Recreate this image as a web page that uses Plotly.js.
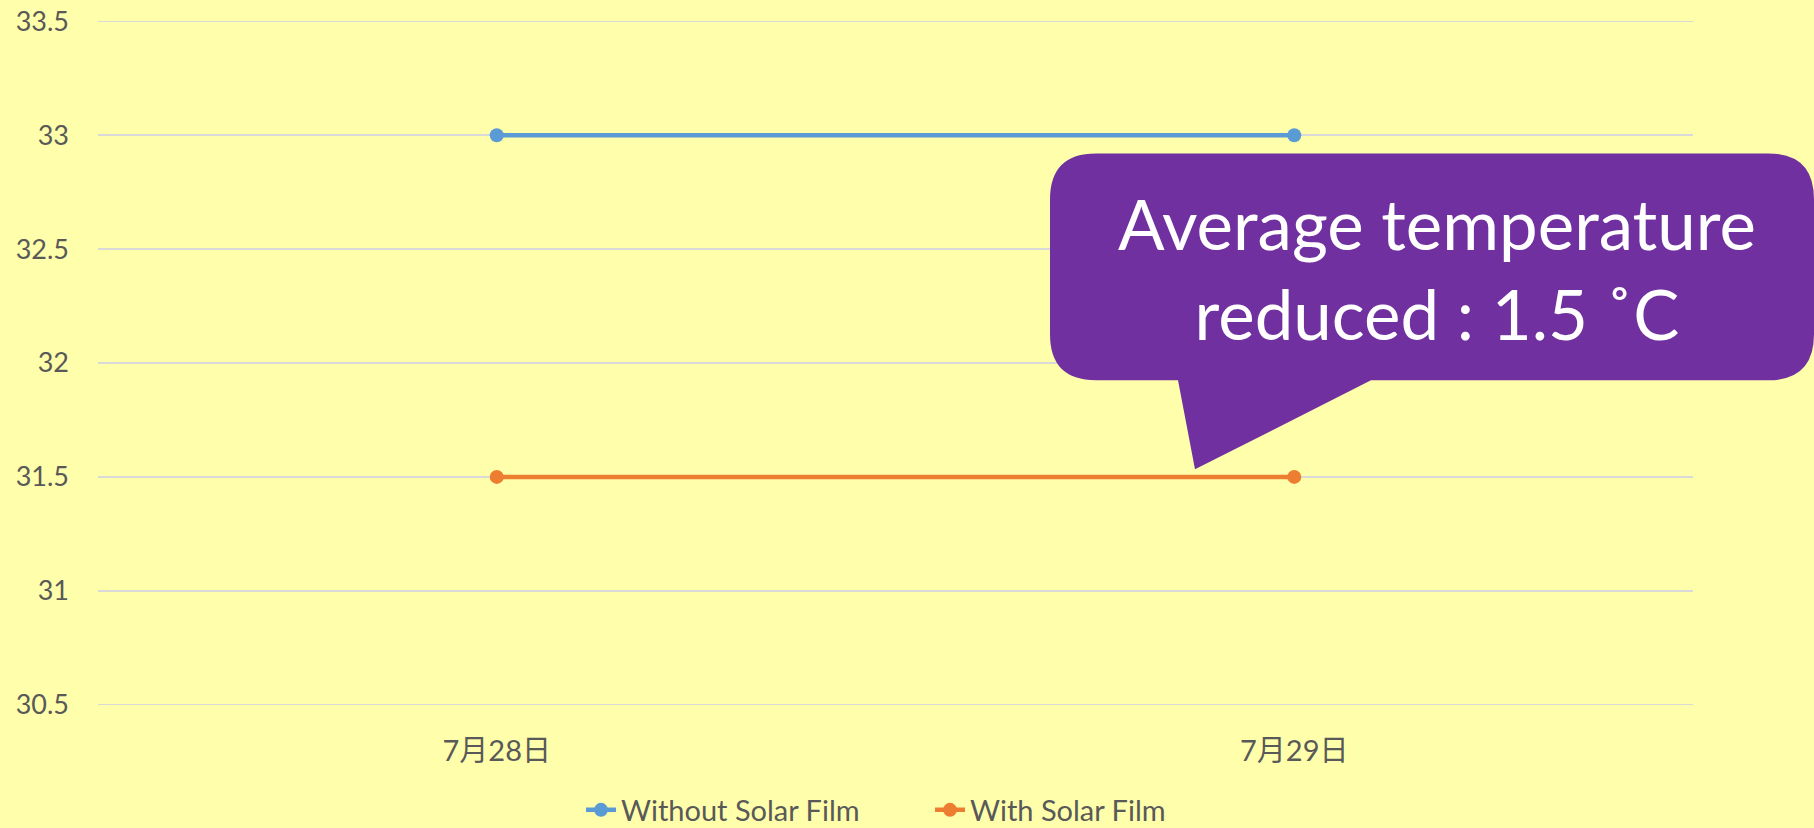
<!DOCTYPE html>
<html>
<head>
<meta charset="utf-8">
<script src="https://cdn.plot.ly/plotly-3.0.1.min.js"></script>
<style>
html,body{margin:0;padding:0;background:#FFFFAB;}
#chart{width:1814px;height:828px;}
</style>
</head>
<body>
<div id="chart"></div>
<script>
const categories = ["7月28日", "7月29日"];
const withoutFilm = [33, 33];
const withFilm = [31.5, 31.5];
const seriesNames = ["Without Solar Film", "With Solar Film"];
const calloutText = "Average temperature<br>reduced : 1.5 ˚C";

const W = 1814, H = 828;
const L = 98, R = 1814 - 1693, T = 18.5, B = 828 - 706.8;
const pw = W - L - R, ph = H - T - B;
const px = v => (v - L) / pw;
const py = v => (H - B - v) / ph;

// callout path in pixel space -> paper
function calloutPath() {
  const x0 = 1050, x1 = 1814, y0 = 153, y1 = 380, r = 46;
  const P = (x, y) => px(x).toFixed(5) + "," + py(y).toFixed(5);
  let d = "M" + P(x0 + r, y0);
  d += " L" + P(x1 - r, y0);
  d += " Q" + P(x1, y0) + " " + P(x1, y0 + r);
  d += " L" + P(x1, y1 - r);
  d += " Q" + P(x1, y1) + " " + P(x1 - r, y1);
  d += " L" + P(1371, y1);
  d += " L" + P(1195, 469);
  d += " L" + P(1178, y1);
  d += " L" + P(x0 + r, y1);
  d += " Q" + P(x0, y1) + " " + P(x0, y1 - r);
  d += " L" + P(x0, y0 + r);
  d += " Q" + P(x0, y0) + " " + P(x0 + r, y0);
  d += " Z";
  return d;
}

const font = "Lato, 'Noto Sans CJK JP', sans-serif";
const traces = [
  {x: categories, y: withoutFilm, name: seriesNames[0], type: "scatter", mode: "lines+markers",
   line: {color: "#5B9BD5", width: 4.5}, marker: {color: "#5B9BD5", size: 14}},
  {x: categories, y: withFilm, name: seriesNames[1], type: "scatter", mode: "lines+markers",
   line: {color: "#ED7D31", width: 4.5}, marker: {color: "#ED7D31", size: 14}}
];

const layout = {
  width: W, height: H,
  paper_bgcolor: "#FFFFAB", plot_bgcolor: "#FFFFAB",
  margin: {l: L, r: R, t: T, b: B, autoexpand: false},
  font: {family: font, color: "#595959", size: 26},
  showlegend: true,
  legend: {orientation: "h", x: 581 / 1814, xanchor: "left", xref: "container",
           y: (828 - 810) / 828, yanchor: "middle", yref: "container",
           entrywidth: 304, entrywidthmode: "pixels",
           font: {family: font, size: 29, color: "#595959"}, bgcolor: "rgba(0,0,0,0)"},
  xaxis: {type: "category", range: [-0.5, 1.5], showgrid: false, zeroline: false, showline: false,
          automargin: false, ticks: "", ticklabelstandoff: 24,
          tickfont: {family: font, size: 29, color: "#595959"}},
  yaxis: {range: [30.49, 33.51], dtick: 0.5, tick0: 30.5, showgrid: true, gridcolor: "#D9D9D9", gridwidth: 1.5,
          zeroline: false, showline: false, automargin: false, ticks: "", ticklabelstandoff: 28,
          tickfont: {family: font, size: 27, color: "#595959"}},
  shapes: [{type: "path", xref: "paper", yref: "paper", path: calloutPath(),
            fillcolor: "#7030A0", line: {width: 0}, layer: "above"}],
  annotations: [{xref: "paper", yref: "paper", x: px(1437), y: py(268), xanchor: "center", yanchor: "middle",
                 text: calloutText, showarrow: false, align: "center",
                 font: {family: font, size: 69, color: "#FFFFFF"}}]
};

Plotly.newPlot("chart", traces, layout, {displayModeBar: false, staticPlot: true});
</script>
</body>
</html>
